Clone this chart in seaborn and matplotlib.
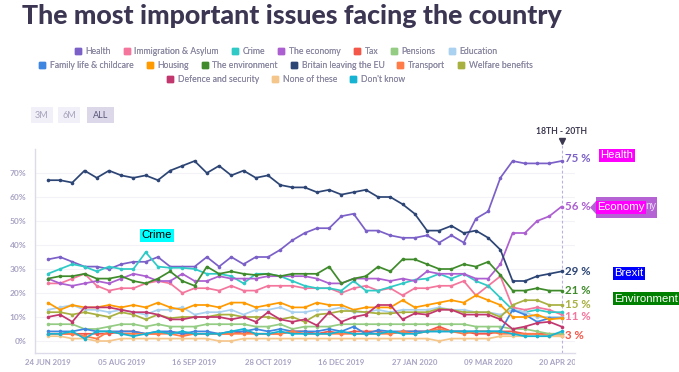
import numpy as np
import pandas as pd
import matplotlib
matplotlib.use("Agg")
import matplotlib.pyplot as plt
import seaborn as sns
from matplotlib.lines import Line2D
from matplotlib.patches import Rectangle, Polygon
from matplotlib.transforms import Bbox, TransformedBbox, blended_transform_factory

# ---------------- data ----------------
x_labels = ["24 JUN 2019", "05 AUG 2019", "16 SEP 2019", "28 OCT 2019",
            "16 DEC 2019", "27 JAN 2020", "09 MAR 2020", "20 APR 2020"]
tick_idx = [0, 6, 12, 18, 24, 30, 36, 42]

issues = ["Health", "Immigration & Asylum", "Crime", "The economy", "Tax", "Pensions",
          "Education", "Family life & childcare", "Housing", "The environment",
          "Britain leaving the EU", "Transport", "Welfare benefits",
          "Defence and security", "None of these", "Don't know"]

health = [34, 35, 33, 31, 31, 30, 32, 33, 33, 35, 31, 31, 31, 35, 31, 35, 32, 35, 35, 38,
          42, 45, 47, 47, 52, 53, 46, 46, 44, 43, 43, 44, 41, 44, 41, 51, 54, 68, 75, 74, 74, 74, 75]
immigration = [24, 24, 26, 28, 23, 21, 22, 22, 24, 25, 24, 20, 22, 22, 21, 23, 21, 21, 23, 23, 23,
               22, 22, 22, 20, 22, 23, 21, 22, 19, 22, 22, 23, 23, 25, 19, 23, 27, 14, 13, 14, 13, 11]
crime = [28, 30, 32, 31, 29, 31, 30, 30, 37, 31, 30.5, 30.5, 30, 28, 28, 27, 24, 28, 28, 27, 25,
         23, 22, 22, 21, 25, 21, 21, 22.5, 24, 25.5, 26, 28, 26, 28, 25, 23, 18, 13, 12, 13, 12, 12]
economy = [26, 24, 23, 24, 25, 24, 26, 28, 27, 25, 25, 28, 25, 25, 27, 26, 26, 26, 27, 27, 27,
           27, 26, 24, 24, 26, 26, 26, 25, 26, 25, 29, 28, 28, 28, 26, 26, 32, 45, 45, 50, 52, 56]
tax = [3, 3, 3, 3, 3, 3, 4, 4, 3, 3, 4, 3, 3, 3, 3, 3, 4, 3, 3, 3, 4, 4, 3, 4, 3, 4, 4, 4, 3, 4,
       4, 4, 6, 4, 4, 3, 3, 4, 4, 3, 3, 3, 3]
pensions = [7, 7, 7, 5, 5, 6, 7, 7, 6, 7, 6, 6, 6, 7, 7, 7, 7, 6, 6, 7, 5,
            6, 6, 6, 7, 7, 7, 7, 7, 7, 7, 7, 7, 7, 7, 6, 6, 6, 5, 5, 4, 3, 3]
education = [13, 14, 15, 13, 13, 12, 13, 12, 11, 13, 13, 14, 11, 12, 12, 13, 11, 13, 13, 14, 12,
             12, 13, 13, 14, 12, 12, 13, 12, 13, 13, 13, 14, 13, 13, 12, 12, 11, 13, 12, 10, 10, 10]
family = [4, 4, 4, 5, 4, 4, 4, 4, 3, 4, 4, 3, 4, 4, 3, 4, 4, 5, 4, 5, 4,
          4, 4, 5, 4, 6, 3, 4.5, 4, 4, 4, 4, 4, 4, 4, 4, 4, 4, 13, 11, 8, 9.5, 9.5]
housing = [16, 13, 15, 14, 14, 15, 14, 15, 14, 16, 14, 13, 15, 15, 14, 16, 16, 14, 15, 16,
           14, 14, 16, 15, 15, 13, 14, 14, 14, 17, 14, 15, 16, 17, 16, 19, 17, 15, 10, 10, 11, 9, 9.5]
environment = [26, 27, 27, 28, 26, 26, 27, 25, 24, 26, 29, 25, 23, 31, 28, 29, 28, 27.5, 28, 27,
               28, 28, 28, 31, 24, 26, 27, 31, 29, 34, 34, 32, 30, 30, 32, 31, 33, 27.5, 21, 21, 22, 21, 21]
brexit = [67, 67, 66, 71, 68, 71, 69, 68, 69, 67, 71, 73, 75, 70, 73, 69, 71, 68, 69, 65,
          64, 64, 62, 63, 61, 62, 63, 60, 60, 57, 53, 46, 46, 48, 45, 46, 43, 38, 25, 25, 27, 28, 29]
transport = [3, 3, 3, 2, 1, 4, 3, 3, 3, 3, 3, 2, 3, 3, 3, 3, 3, 3, 3, 3, 4, 3, 3, 3, 3, 3, 3, 3,
             3, 4, 3, 4, 5, 4, 3, 4, 4, 3, 3, 3, 3, 2, 2]
welfare = [12, 12, 11, 12, 11, 10, 12, 11, 9, 11, 9.5, 10, 10, 10, 11, 11, 10, 10, 10, 9, 10,
           8, 11, 11.5, 12.5, 12.5, 12, 11.5, 11.5, 12, 12, 12, 13.5, 13, 12, 12, 12, 10, 15, 17, 17, 15, 15]
defence = [10, 11, 8, 14, 14, 14, 13, 12, 12, 11, 9, 9, 10, 10, 10, 9, 10, 8, 12, 9, 8,
           9, 6.5, 12, 8, 10, 11, 15, 15, 9, 11.5, 11, 13, 13, 11, 11, 11, 9, 5, 6, 7.5, 8, 6]
none_of_these = [2, 2, 1, 1, 0, 0, 1, 1, 1, 1, 1, 1, 1, 1, 0, 0, 1, 1, 1, 1, 1, 1, 1, 1, 1, 1, 1,
                 1, 1, 1, 1, 1, 0, 1, 1, 1, 1, 2, 2, 2, 2, 2, 2]
dont_know = [3, 3, 4, 1, 4, 4, 3, 2, 3, 4, 3, 4, 3, 3, 3, 4, 5, 3, 3, 4, 3, 3, 3, 3, 4, 3, 3, 3,
             4, 3, 3, 4, 4, 4, 4, 4, 4, 4, 3, 2, 2, 2, 4]

series = [health, immigration, crime, economy, tax, pensions, education, family, housing,
          environment, brexit, transport, welfare, defence, none_of_these, dont_know]

colors = ["#7b60c8", "#f4769d", "#2fcac6", "#ac5fd0", "#f4574a", "#93cc82", "#aad2f0",
          "#3f86e0", "#ff9a00", "#3f8b2b", "#2d4575", "#ff7b47", "#a8b040", "#c2386e",
          "#f5c68c", "#17b3d2"]
palette = dict(zip(issues, colors))

n = len(health)
df = pd.concat([pd.DataFrame({"week": np.arange(n), "pct": s, "issue": name})
                for name, s in zip(issues, series)], ignore_index=True)

# ---------------- figure ----------------
W, H = 679, 372
sns.set_theme(style="white")
plt.rcParams["font.family"] = ["Lato", "DejaVu Sans"]
fig = plt.figure(figsize=(W / 100, H / 100), dpi=100)
fig.patch.set_facecolor("white")

def fx(px):
    return px / W

def fy(py):
    return 1 - py / H

ax = fig.add_axes([fx(35), fy(353), fx(575) - fx(35), fy(149) - fy(353)])
ax.set_facecolor("white")

sns.lineplot(data=df, x="week", y="pct", hue="issue", hue_order=issues, palette=palette,
             marker="o", markersize=2.6, markeredgewidth=0, linewidth=1.25,
             legend=False, sort=False, ax=ax)

ax.set_xlim(-1.05, 43.1)
ax.set_ylim(-5, 80)
ax.set_yticks(range(0, 71, 10))
ax.set_yticklabels([f"{v}%" for v in range(0, 71, 10)])
ax.set_xticks(tick_idx)
ax.set_xticklabels(x_labels)
ax.set_xlabel("")
ax.set_ylabel("")
ax.grid(axis="y", color="#f3f3f7", linewidth=0.8)
ax.grid(axis="x", visible=False)
for s in ["top", "right"]:
    ax.spines[s].set_visible(False)
for s in ["left", "bottom"]:
    ax.spines[s].set_color("#dddbe9")
    ax.spines[s].set_linewidth(1.0)
ax.tick_params(axis="y", length=0, pad=6, labelsize=6, labelcolor="#a8a3c4")
ax.tick_params(axis="x", length=0, pad=4, labelsize=5.6, labelcolor="#a8a3c4")
for lab in ax.get_xticklabels() + ax.get_yticklabels():
    lab.set_fontweight("bold")

# vertical dashed crosshair at last point
trans = blended_transform_factory(ax.transData, ax.transAxes)
ax.plot([n - 1, n - 1], [0, 1.02], transform=trans, color="#b9b1dd", lw=0.8,
        ls=(0, (2.5, 2)), clip_on=False, zorder=1)
ax.plot([n - 1], [1.04], transform=trans, marker="v", color="#3b3850", ms=5, clip_on=False)
ax.text(n - 1, 1.085, "18TH - 20TH", transform=trans, ha="center", va="center",
        fontsize=6.2, fontweight="bold", color="#3b3850")

# value labels at the last point
label_info = [(health, "#7b60c8", 1.5), (economy, "#ac5fd0", 0), (brexit, "#2d4575", 0),
              (environment, "#3f8b2b", 0), (welfare, "#a8b040", 0),
              (immigration, "#f4769d", -1.5), (tax, "#f4574a", -1.5)]
for s, c, dy in label_info:
    ax.annotate(f"{s[-1]:g} %", xy=(n - 1, s[-1]), xytext=(2.5, dy), textcoords="offset points",
                ha="left", va="center", fontsize=8.3, fontweight="bold", color=c,
                annotation_clip=False)

# ---------------- title ----------------
title = fig.text(fx(22), fy(16), "The most important issues facing the country",
                 ha="left", va="center", fontsize=19, fontweight="black", color="#3c3653")

# ---------------- legend (3 centred rows) ----------------
rows = [issues[0:7], issues[7:13], issues[13:16]]
row_y = [52, 66, 80]
for row, yy in zip(rows, row_y):
    handles = [Line2D([], [], ls="none", marker="s", ms=4.0, color=palette[i]) for i in row]
    leg = fig.legend(handles, row, loc="center", bbox_to_anchor=(fx(286), fy(yy)),
                     ncol=len(row), frameon=False, fontsize=6.2, handlelength=0.7,
                     handletextpad=0.55, columnspacing=1.5, borderpad=0, borderaxespad=0)
    for t in leg.get_texts():
        t.set_color("#8d8ba3")
    fig.add_artist(leg)

# ---------------- range buttons ----------------
for (x0, x1, lab, bg, tc) in [(31, 53, "3M", "#f1eff7", "#a6a2bc"),
                              (58, 80, "6M", "#f1eff7", "#a6a2bc"),
                              (87, 114, "ALL", "#dcd8ea", "#5b5878")]:
    fig.add_artist(Rectangle((fx(x0), fy(123)), fx(x1) - fx(x0), fy(107) - fy(123),
                             transform=fig.transFigure, facecolor=bg, edgecolor="none"))
    fig.text(fx((x0 + x1) / 2), fy(115), lab, ha="center", va="center", fontsize=6.5, color=tc)

# ---------------- highlighted annotation boxes ----------------
def box(xc, yc, text, bg, fg, size=8.2):
    fig.text(fx(xc), fy(yc), text, ha="center", va="center", fontsize=size, color=fg,
             family=["Liberation Sans", "DejaVu Sans"],
             bbox=dict(boxstyle="square,pad=0.12", facecolor=bg, edgecolor="none"))

# economy tooltip shape
fig.add_artist(Polygon([(fx(590), fy(207.5)), (fx(596), fy(201)), (fx(596), fy(197)),
                        (fx(657), fy(197)), (fx(657), fy(218)), (fx(596), fy(218)),
                        (fx(596), fy(214))], closed=True, transform=fig.transFigure,
                       facecolor="#b563d4", edgecolor="none"))
fig.text(fx(651), fy(206), "ny", ha="center", va="center", fontsize=7.5, color="#ecdcf4",
         family=["Liberation Sans", "DejaVu Sans"])
box(621, 207.5, "Economy", "#ff00ff", "white")
box(617, 155.5, "Health", "#ff00ff", "white")
box(629, 273.5, "Brexit", "#0000ff", "white")
box(646.5, 298.5, "Environment", "#008000", "white")
box(157, 235.5, "Crime", "#00ffff", "black")

# fit title width and clip last x label like the reference
fig.canvas.draw()
r = fig.canvas.get_renderer()
bb = title.get_window_extent(r)
title.set_fontsize(19 * 538 / bb.width)
clip = TransformedBbox(Bbox([[0, 0], [fx(575), 1]]), fig.transFigure)
last = ax.get_xticklabels()[-1]
last.set_clip_on(True)
last.set_clip_box(clip)

fig.savefig("out.png", dpi=100, facecolor="white")
